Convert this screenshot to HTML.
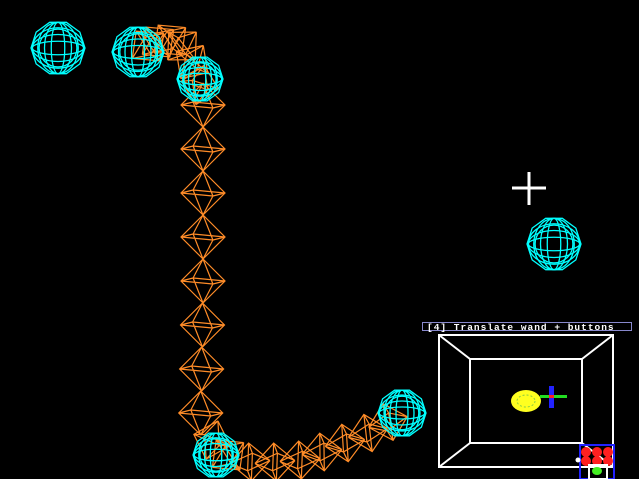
<!DOCTYPE html>
<html><head><style>html,body{margin:0;padding:0;background:#000;width:639px;height:479px;overflow:hidden}</style></head>
<body>
<svg id="s" width="639" height="479" viewBox="0 0 639 479" xmlns="http://www.w3.org/2000/svg" style="display:block">
<rect width="639" height="479" fill="#000"/>
<g id="oct" stroke="#ff8c28" stroke-width="1.2" fill="none"></g>
<g id="sph" stroke="#00ffff" stroke-width="1.3" fill="none"></g>
<g stroke="#fff" stroke-width="3">
<line x1="512" y1="188" x2="546" y2="188"/><line x1="529" y1="172" x2="529" y2="205"/>
</g>
<rect x="422.5" y="322.5" width="209" height="8" fill="#000" stroke="#8888cc" stroke-width="1"/>
<text x="427" y="330" fill="#fff" font-family="Liberation Mono, monospace" font-size="9.5" font-weight="bold" letter-spacing="1">[4] Translate wand + buttons</text>
<g stroke="#fff" stroke-width="2" fill="none">
<rect x="439" y="335" width="174" height="132"/>
<rect x="470" y="359" width="112" height="84"/>
<line x1="439" y1="335" x2="470" y2="359"/><line x1="613" y1="335" x2="582" y2="359"/>
<line x1="439" y1="467" x2="470" y2="443"/><line x1="613" y1="467" x2="582" y2="443"/>
</g>
<ellipse cx="526" cy="401" rx="15" ry="11" fill="#ffff20"/>
<ellipse cx="526" cy="401" rx="9" ry="6" fill="none" stroke="#88cc44" stroke-dasharray="2 2"/>
<rect x="540" y="395" width="27" height="3" fill="#22dd22"/>
<rect x="549" y="386" width="5" height="22" fill="#2222ff"/>
<rect x="549" y="395" width="5" height="3" fill="#ff2222"/>
<rect x="580" y="445" width="34" height="34" fill="none" stroke="#2222ff" stroke-width="2"/>
<g fill="#ff2020"><circle cx="586" cy="452" r="5"/><circle cx="597" cy="452" r="5"/><circle cx="608" cy="452" r="5"/><circle cx="586" cy="461" r="5"/><circle cx="597" cy="461" r="5"/><circle cx="608" cy="461" r="5"/></g>
<circle cx="578" cy="460" r="2.5" fill="#fff"/>
<rect x="589" y="465" width="18" height="14" fill="none" stroke="#fff" stroke-width="2"/>
<ellipse cx="597" cy="471" rx="5" ry="4" fill="#44ee22"/>
</svg>
<script>
(function(){
var NS="http://www.w3.org/2000/svg";
function add(g,tag,a){var e=document.createElementNS(NS,tag);for(var k in a)e.setAttribute(k,a[k]);document.getElementById(g).appendChild(e);}
function oct(cx,cy,ang,h,w){
 var c=Math.cos(ang),s=Math.sin(ang);
 function p(u,v){return [cx+u*c-v*s, cy+u*s+v*c];}
 var tp=p(0,-h),bt=p(0,h);
 var pts=[p(-w,0),p(-w*0.45,-3),p(w,0),p(w*0.45,3)];
 var d="";
 for(var i=0;i<4;i++){var q=pts[i],r=pts[(i+1)%4];
  d+="M"+tp+"L"+q+"L"+bt+"M"+q+"L"+r;}
 add("oct","path",{d:d});
}
for(var y=105;y<=420;y+=44){oct(203-(y>300?(y-300)*0.02:0),y,0,22,22);}
var botc=[[212,440,0.3],[228,455,0.9],[250,462,1.5],[275,462,1.5],[300,460,1.5],[322,452,1.45],[345,443,1.4],[368,433,1.35],[388,422,1.3]];
botc.forEach(function(b){oct(b[0],b[1],b[2],20,19);});
var topc=[[200,85,0.2],[192,62,0.6],[182,46,0.8],[170,40,0.9],[158,42,0.9],[148,46,0.9]];
topc.forEach(function(b){oct(b[0],b[1],b[2],20,19);});
function sph(cx,cy,r){
 var d="";
 var n=10;
 for(var i=0;i<n;i++){var a=i*Math.PI*2/n;var x=cx+r*Math.cos(a),y=cy+r*Math.sin(a);d+=(i?"L":"M")+x+","+y;} d+="Z";
 add("sph","path",{d:d});
 for(var k=1;k<4;k++){add("sph","ellipse",{cx:cx,cy:cy,rx:r*(k/4),ry:r*0.95});add("sph","ellipse",{cx:cx,cy:cy,rx:r*0.95,ry:r*(k/4)});}
 add("sph","circle",{cx:cx,cy:cy,r:r*0.7});
}
sph(58,48,27);sph(138,52,26);sph(200,79,23);sph(554,244,27);sph(402,413,24);sph(216,455,23);
})();
</script>
</body></html>
